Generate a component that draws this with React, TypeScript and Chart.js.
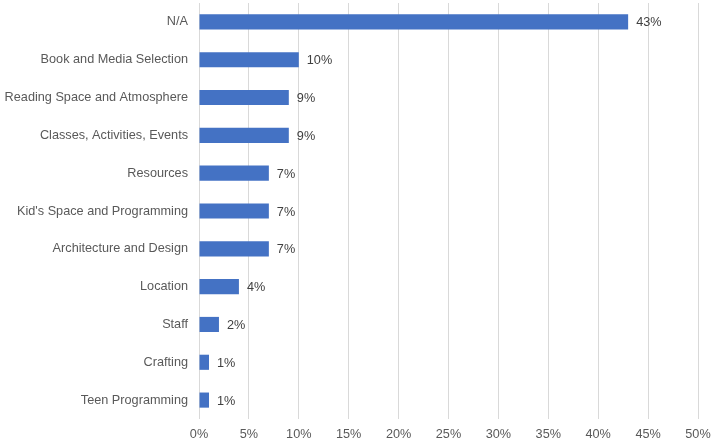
import React, { useEffect, useRef } from "react";
import { Chart, registerables } from "chart.js";

Chart.register(...registerables);

const categories = [
  "N/A",
  "Book and Media Selection",
  "Reading Space and Atmosphere",
  "Classes, Activities, Events",
  "Resources",
  "Kid's Space and Programming",
  "Architecture and Design",
  "Location",
  "Staff",
  "Crafting",
  "Teen Programming",
];
const values = [43, 10, 9, 9, 7, 7, 7, 4, 2, 1, 1];
const valueLabels = ["43%", "10%", "9%", "9%", "7%", "7%", "7%", "4%", "2%", "1%", "1%"];

const FONT = "'Liberation Sans', Arial, sans-serif";
const FS = 12.7;

const dataLabelPlugin = {
  id: "dataLabels",
  afterDatasetsDraw(chart: any) {
    const ctx = chart.ctx;
    const meta = chart.getDatasetMeta(0);
    ctx.save();
    ctx.font = `${FS}px ${FONT}`;
    ctx.fillStyle = "#404040";
    ctx.textAlign = "left";
    ctx.textBaseline = "middle";
    meta.data.forEach((bar: any, i: number) => {
      ctx.fillText(valueLabels[i], bar.x + 8, bar.y + 1);
    });
    ctx.restore();
  },
};

export default function App() {
  const ref = useRef<HTMLCanvasElement>(null);
  useEffect(() => {
    document.body.style.margin = "0";
    const chart = new Chart(ref.current!, {
      type: "bar",
      data: {
        labels: categories,
        datasets: [
          {
            data: values,
            backgroundColor: "#4472C4",
            borderWidth: 0,
            barPercentage: 0.4,
            categoryPercentage: 1,
          },
        ],
      },
      options: {
        indexAxis: "y",
        responsive: false,
        animation: false,
        layout: { padding: { top: 3, right: 15, left: 0, bottom: 0 } },
        plugins: { legend: { display: false }, tooltip: { enabled: false } },
        scales: {
          x: {
            min: 0,
            max: 50,
            ticks: {
              stepSize: 5,
              callback: (v: any) => v + "%",
              color: "#595959",
              font: { family: FONT, size: FS },
              padding: 8,
              maxRotation: 0,
            },
            grid: { color: "#d9d9d9", drawTicks: false, lineWidth: 1 },
            border: { display: false },
            afterFit: (s: any) => {
              s.height = 23;
              s.paddingLeft = 0;
              s.paddingRight = 0;
            },
          },
          y: {
            ticks: {
              color: "#595959",
              font: { family: FONT, size: FS },
              padding: 11,
              autoSkip: false,
            },
            grid: { display: false, drawTicks: false },
            border: { display: false },
            afterFit: (s: any) => {
              s.width = 199;
              s.paddingTop = 0;
              s.paddingBottom = 0;
            },
          },
        },
      },
      plugins: [dataLabelPlugin],
    });
    return () => chart.destroy();
  }, []);
  return (
    <div style={{ width: 713, height: 442 }}>
      <canvas ref={ref} width={713} height={442} />
    </div>
  );
}
